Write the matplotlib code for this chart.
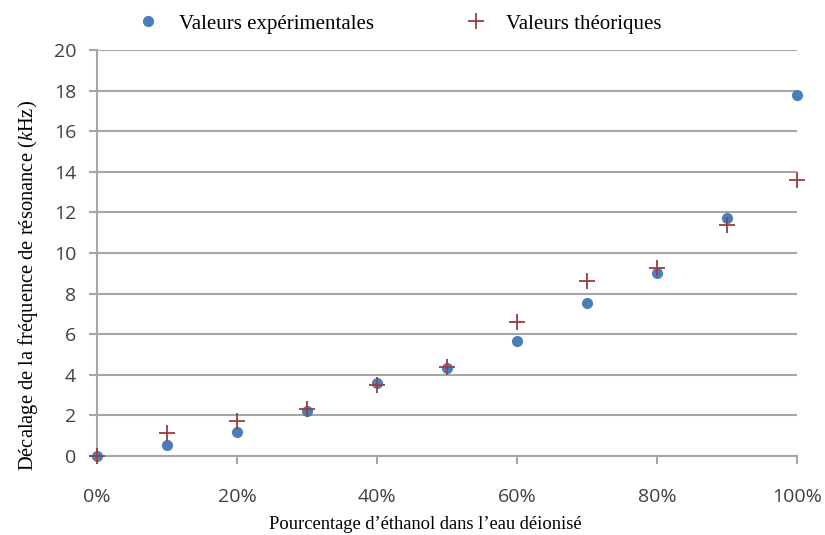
import matplotlib
matplotlib.use('Agg')
import matplotlib.pyplot as plt
from matplotlib.ticker import FuncFormatter

# ethanol fraction in deionised water (%)
ethanol_pct = [0, 10, 20, 30, 40, 50, 60, 70, 80, 90, 100]
# resonance frequency shift (kHz)
experimental = [0.0, 0.55, 1.2, 2.2, 3.6, 4.35, 5.65, 7.55, 9.0, 11.7, 17.8]
theoretical = [0.0, 1.12, 1.72, 2.3, 3.5, 4.4, 6.6, 8.6, 9.25, 11.4, 13.6]

x_ticks = [0, 20, 40, 60, 80, 100]
y_ticks = list(range(0, 21, 2))

plt.rcParams['mathtext.fontset'] = 'custom'
plt.rcParams['mathtext.it'] = 'Liberation Serif:italic'
plt.rcParams['mathtext.rm'] = 'Liberation Serif'

fig = plt.figure(figsize=(8.25, 5.35), dpi=100)
ax = fig.add_axes([0.1176, 0.1477, 0.8485, 0.7588])

grid_col = '#a6a6a6'
tick_col = '#404040'

# grid lines behind the markers
ax.set_axisbelow(True)
ax.grid(axis='y', color=grid_col, linewidth=1.5)

ax.plot(ethanol_pct, experimental, linestyle='none', marker='o', markersize=7,
        color='#4a7ebb', label='Valeurs expérimentales', clip_on=False, zorder=3)
ax.plot(ethanol_pct, theoretical, linestyle='none', marker='+', markersize=11,
        markeredgewidth=1.3, color='#9b3d3d', label='Valeurs théoriques',
        clip_on=False, zorder=4)

ax.set_xlim(0, 100)
ax.set_ylim(0, 20)
ax.set_xticks(x_ticks)
ax.set_yticks(y_ticks)
ax.xaxis.set_major_formatter(FuncFormatter(lambda v, p: f'{int(v)}%'))

for side in ['top', 'right']:
    ax.spines[side].set_visible(False)
for side in ['left', 'bottom']:
    ax.spines[side].set_color(grid_col)
    ax.spines[side].set_linewidth(1.5)

ax.tick_params(axis='both', colors=grid_col, length=6, width=1.5,
               labelcolor=tick_col, labelsize=14)
ax.tick_params(axis='x', pad=17)
ax.tick_params(axis='y', pad=9)
for lab in ax.get_xticklabels() + ax.get_yticklabels():
    lab.set_family('Open Sans')

ax.set_xlabel('Pourcentage d\u2019éthanol dans l\u2019eau déionisé',
              family='Liberation Serif', fontsize=13.3)
ax.xaxis.set_label_coords(0.469, -0.148)
ax.set_ylabel('Décalage de la fréquence de résonance ($k$Hz)',
              family='Liberation Serif', fontsize=14.8)
ax.yaxis.set_label_coords(-0.081, 0.42)

leg = ax.legend(loc='lower center', bbox_to_anchor=(0.425, 1.02), ncol=2,
                frameon=False, prop={'family': 'Liberation Serif', 'size': 15},
                handletextpad=0.45, columnspacing=3.9, borderaxespad=0)

fig.savefig('out.png', dpi=100)
